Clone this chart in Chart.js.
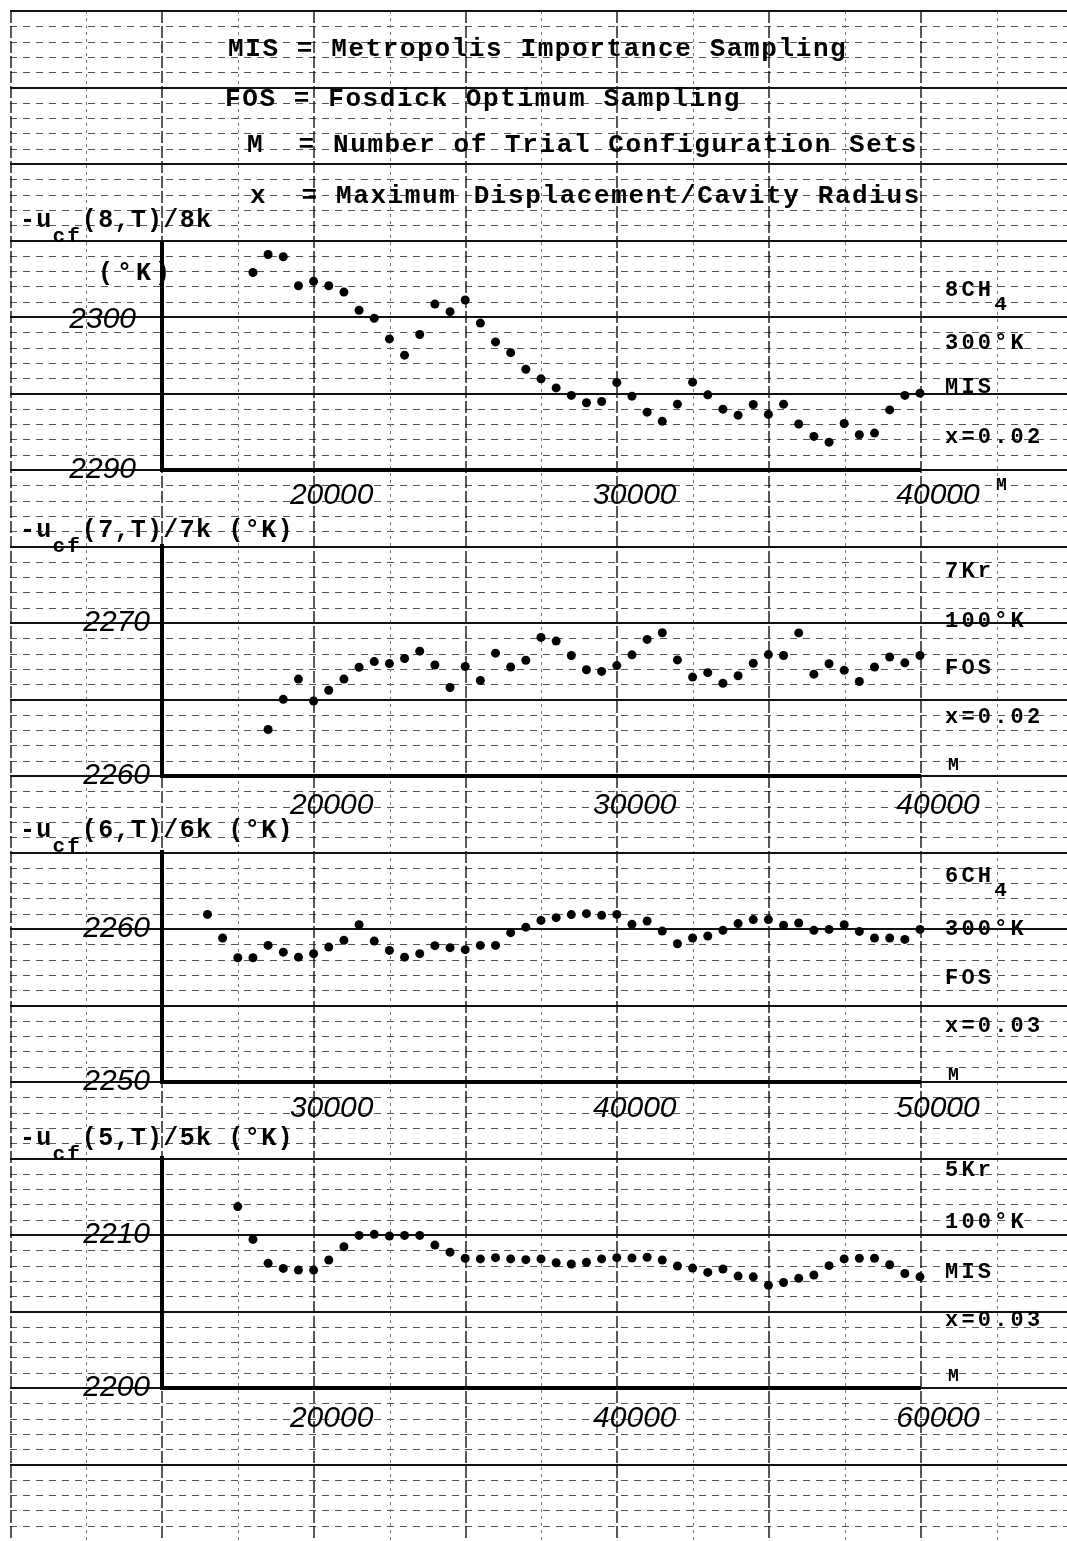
<!DOCTYPE html>
<html>
<head>
<meta charset="utf-8">
<script src="https://cdn.jsdelivr.net/npm/chart.js@4.4.1/dist/chart.umd.min.js"></script>
<style>
  html, body { margin: 0; padding: 0; background: #fff; }
  #page { position: relative; width: 1067px; height: 1541px; overflow: hidden; background: #fff; }
  canvas { position: absolute; left: 0; }
  .t { position: absolute; font-family: 'Liberation Mono', 'DejaVu Sans Mono', monospace; color: #000; white-space: pre; line-height: 1; font-weight: bold; }
  .big { font-size: 26px; letter-spacing: 1.6px; }
  .ax { font-size: 25px; letter-spacing: 1.3px; }
  .sub { font-size: 21px; position: relative; top: 15px; letter-spacing: 2px; }
  .side { font-size: 22px; letter-spacing: 3.2px; }
  .s4 { font-size: 21px; position: relative; top: 14px; }
  .m { font-size: 18px; }
</style>
</head>
<body>
<div id="page">
  <canvas id="paper" width="1067" height="1541" style="top:0"></canvas>
  <canvas id="c1" width="1067" height="330" style="top:200px"></canvas>
  <canvas id="c2" width="1067" height="330" style="top:506px"></canvas>
  <canvas id="c3" width="1067" height="330" style="top:812px"></canvas>
  <canvas id="c4" width="1067" height="330" style="top:1118px"></canvas>

  <div class="t big" style="left:228px;top:36px">MIS = Metropolis Importance Sampling</div>
  <div class="t big" style="left:225px;top:86px">FOS = Fosdick Optimum Sampling</div>
  <div class="t big" style="left:247px;top:132px">M  = Number of Trial Configuration Sets</div>
  <div class="t big" style="left:250px;top:183px">x  = Maximum Displacement/Cavity Radius</div>

  <div class="t ax" style="left:20px;top:208px">-u<span class="sub">cf</span>(8,T)/8k</div>
  <div class="t ax" style="left:98px;top:261px;letter-spacing:4px">(°K)</div>
  <div class="t ax" style="left:20px;top:518px">-u<span class="sub">cf</span>(7,T)/7k (°K)</div>
  <div class="t ax" style="left:20px;top:818px">-u<span class="sub">cf</span>(6,T)/6k (°K)</div>
  <div class="t ax" style="left:20px;top:1126px">-u<span class="sub">cf</span>(5,T)/5k (°K)</div>

  <div class="t side" style="left:945px;top:280px">8CH<span class="s4">4</span></div>
  <div class="t side" style="left:945px;top:333px">300°K</div>
  <div class="t side" style="left:945px;top:377px">MIS</div>
  <div class="t side" style="left:945px;top:427px">x=0.02</div>
  <div class="t m" style="left:996px;top:476px">M</div>

  <div class="t side" style="left:945px;top:561px">7Kr</div>
  <div class="t side" style="left:945px;top:611px">100°K</div>
  <div class="t side" style="left:945px;top:658px">FOS</div>
  <div class="t side" style="left:945px;top:707px">x=0.02</div>
  <div class="t m" style="left:948px;top:756px">M</div>

  <div class="t side" style="left:945px;top:866px">6CH<span class="s4">4</span></div>
  <div class="t side" style="left:945px;top:919px">300°K</div>
  <div class="t side" style="left:945px;top:968px">FOS</div>
  <div class="t side" style="left:945px;top:1016px">x=0.03</div>
  <div class="t m" style="left:948px;top:1066px">M</div>

  <div class="t side" style="left:945px;top:1160px">5Kr</div>
  <div class="t side" style="left:945px;top:1212px">100°K</div>
  <div class="t side" style="left:945px;top:1262px">MIS</div>
  <div class="t side" style="left:945px;top:1310px">x=0.03</div>
  <div class="t m" style="left:948px;top:1367px">M</div>
</div>
<script>
// 8 CH4, 300 K, MIS, x=0.02
const m8 = [18000, 18500, 19000, 19500, 20000, 20500, 21000, 21500, 22000, 22500,
  23000, 23500, 24000, 24500, 25000, 25500, 26000, 26500, 27000, 27500,
  28000, 28500, 29000, 29500, 30000, 30500, 31000, 31500, 32000, 32500,
  33000, 33500, 34000, 34500, 35000, 35500, 36000, 36500, 37000, 37500,
  38000, 38500, 39000, 39500, 40000];
const u8 = [2303.11, 2304.30, 2304.15, 2302.23, 2302.52, 2302.23, 2301.81, 2300.60, 2300.07, 2298.70,
  2297.62, 2298.99, 2301.01, 2300.51, 2301.28, 2299.75, 2298.50, 2297.79, 2296.69, 2296.05,
  2295.45, 2294.95, 2294.46, 2294.55, 2295.81, 2294.90, 2293.84, 2293.23, 2294.37, 2295.83,
  2294.99, 2294.04, 2293.64, 2294.35, 2293.69, 2294.37, 2293.05, 2292.23, 2291.85, 2293.09,
  2292.34, 2292.45, 2293.99, 2294.95, 2295.10];

// 7 Kr, 100 K, FOS, x=0.02
const m7 = [18500, 19000, 19500, 20000, 20500, 21000, 21500, 22000, 22500,
  23000, 23500, 24000, 24500, 25000, 25500, 26000, 26500, 27000, 27500,
  28000, 28500, 29000, 29500, 30000, 30500, 31000, 31500, 32000, 32500,
  33000, 33500, 34000, 34500, 35000, 35500, 36000, 36500, 37000, 37500,
  38000, 38500, 39000, 39500, 40000];
const u7 = [2263.03, 2265.00, 2266.32, 2264.89, 2265.59, 2266.32, 2267.09, 2267.46, 2267.33,
  2267.66, 2268.14, 2267.24, 2265.77, 2267.14, 2266.23, 2268.01, 2267.11, 2267.55, 2269.04,
  2268.80, 2267.86, 2266.93, 2266.82, 2267.20, 2267.90, 2268.91, 2269.34, 2267.57, 2266.45,
  2266.74, 2266.05, 2266.54, 2267.35, 2267.92, 2267.86, 2269.33, 2266.64, 2267.32, 2266.89,
  2266.16, 2267.11, 2267.76, 2267.38, 2267.86];

// 6 CH4, 300 K, FOS, x=0.03
const m6 = [26500, 27000, 27500, 28000, 28500, 29000, 29500, 30000, 30500, 31000,
  31500, 32000, 32500, 33000, 33500, 34000, 34500, 35000, 35500, 36000,
  36500, 37000, 37500, 38000, 38500, 39000, 39500, 40000, 40500, 41000,
  41500, 42000, 42500, 43000, 43500, 44000, 44500, 45000, 45500, 46000,
  46500, 47000, 47500, 48000, 48500, 49000, 49500, 50000];
const u6 = [2260.93, 2259.39, 2258.10, 2258.10, 2258.91, 2258.47, 2258.14, 2258.37, 2258.80, 2259.24,
  2260.26, 2259.19, 2258.58, 2258.14, 2258.37, 2258.89, 2258.76, 2258.63, 2258.91, 2258.91,
  2259.74, 2260.10, 2260.54, 2260.72, 2260.92, 2260.98, 2260.87, 2260.93, 2260.28, 2260.50,
  2259.84, 2259.02, 2259.39, 2259.52, 2259.89, 2260.33, 2260.59, 2260.59, 2260.22, 2260.37,
  2259.89, 2259.95, 2260.26, 2259.82, 2259.39, 2259.39, 2259.30, 2259.95];

// 5 Kr, 100 K, MIS, x=0.03
const m5 = [15000, 16000, 17000, 18000, 19000, 20000, 21000, 22000, 23000, 24000,
  25000, 26000, 27000, 28000, 29000, 30000, 31000, 32000, 33000, 34000,
  35000, 36000, 37000, 38000, 39000, 40000, 41000, 42000, 43000, 44000,
  45000, 46000, 47000, 48000, 49000, 50000, 51000, 52000, 53000, 54000,
  55000, 56000, 57000, 58000, 59000, 60000];
const u5 = [2211.83, 2209.69, 2208.13, 2207.80, 2207.69, 2207.69, 2208.35, 2209.21, 2209.95, 2210.02,
  2209.91, 2209.95, 2209.95, 2209.32, 2208.86, 2208.46, 2208.42, 2208.50, 2208.42, 2208.37,
  2208.42, 2208.17, 2208.09, 2208.20, 2208.42, 2208.50, 2208.48, 2208.53, 2208.35, 2207.96,
  2207.82, 2207.54, 2207.76, 2207.30, 2207.25, 2206.70, 2206.88, 2207.15, 2207.37, 2207.98,
  2208.42, 2208.46, 2208.46, 2208.04, 2207.47, 2207.25];

const xTicks8 = [20000, 30000, 40000];
const yTicks8 = [2290, 2300];
const xTicks7 = [20000, 30000, 40000];
const yTicks7 = [2260, 2270];
const xTicks6 = [30000, 40000, 50000];
const yTicks6 = [2250, 2260];
const xTicks5 = [20000, 40000, 60000];
const yTicks5 = [2200, 2210];

// graph paper behind everything
function drawPaper() {
  const ctx = document.getElementById('paper').getContext('2d');
  const W = 1067, H = 1541, row = 76.5, col = 151.7;
  ctx.fillStyle = '#fff';
  ctx.fillRect(0, 0, W, H);
  ctx.strokeStyle = '#555';
  ctx.lineWidth = 1;
  ctx.setLineDash([7, 6]);
  for (let y = 11; y < H; y += row / 5) {
    ctx.beginPath(); ctx.moveTo(10, Math.round(y) + 0.5); ctx.lineTo(W, Math.round(y) + 0.5); ctx.stroke();
  }
  ctx.strokeStyle = '#777';
  ctx.setLineDash([3, 4]);
  for (let x = 10.5 + col / 2; x < W; x += col) {
    ctx.beginPath(); ctx.moveTo(Math.round(x) + 0.5, 11); ctx.lineTo(Math.round(x) + 0.5, H); ctx.stroke();
  }
  ctx.strokeStyle = '#111';
  ctx.lineWidth = 1.8;
  ctx.setLineDash([]);
  for (let y = 11; y < H; y += row) {
    ctx.beginPath(); ctx.moveTo(10, Math.round(y)); ctx.lineTo(W, Math.round(y)); ctx.stroke();
  }
  ctx.lineWidth = 1.4;
  ctx.setLineDash([12, 3]);
  for (let x = 10.5; x < W; x += col) {
    ctx.beginPath(); ctx.moveTo(Math.round(x), 11); ctx.lineTo(Math.round(x), H); ctx.stroke();
  }
  ctx.setLineDash([]);
}
drawPaper();

const handFont = { family: "'Liberation Sans', 'DejaVu Sans', sans-serif", style: 'italic', size: 30 };

function makePanel(id, xs, ys, xMin, xMax, yMin, yMax, xTicks, yTicks, yPad, xPad) {
  const pts = xs.map((m, i) => ({ x: m, y: ys[i] }));
  return new Chart(document.getElementById(id), {
    type: 'scatter',
    data: {
      datasets: [{
        data: pts,
        backgroundColor: '#000',
        borderWidth: 0,
        pointRadius: 4.5,
        clip: false
      }]
    },
    options: {
      responsive: false,
      animation: false,
      layout: { padding: { top: 40, right: 147, left: 0, bottom: 0 } },
      plugins: { legend: { display: false }, tooltip: { enabled: false } },
      scales: {
        x: {
          type: 'linear', min: xMin, max: xMax,
          afterFit: s => { s.height = 60; },
          afterBuildTicks: s => { s.ticks = xTicks.map(v => ({ value: v })); },
          grid: { display: false, drawTicks: false },
          border: { display: true, color: '#000', width: 4 },
          ticks: {
            padding: xPad, labelOffset: 18, maxRotation: 0, autoSkip: false,
            color: '#000', font: handFont, callback: v => String(v)
          }
        },
        y: {
          type: 'linear', min: yMin, max: yMax,
          afterFit: s => { s.width = 162; },
          afterBuildTicks: s => { s.ticks = yTicks.map(v => ({ value: v })); },
          grid: { display: false, drawTicks: false },
          border: { display: true, color: '#000', width: 4 },
          ticks: { padding: yPad, autoSkip: false, color: '#000', font: handFont, callback: v => String(v) }
        }
      }
    }
  });
}

makePanel('c1', m8, u8, 15000, 40000, 2290, 2305, xTicks8, yTicks8, 26, 8);
makePanel('c2', m7, u7, 15000, 40000, 2260, 2275, xTicks7, yTicks7, 12, 12);
makePanel('c3', m6, u6, 25000, 50000, 2250, 2265, xTicks6, yTicks6, 12, 9);
makePanel('c4', m5, u5, 10000, 60000, 2200, 2215, xTicks5, yTicks5, 12, 13);
</script>
</body>
</html>
